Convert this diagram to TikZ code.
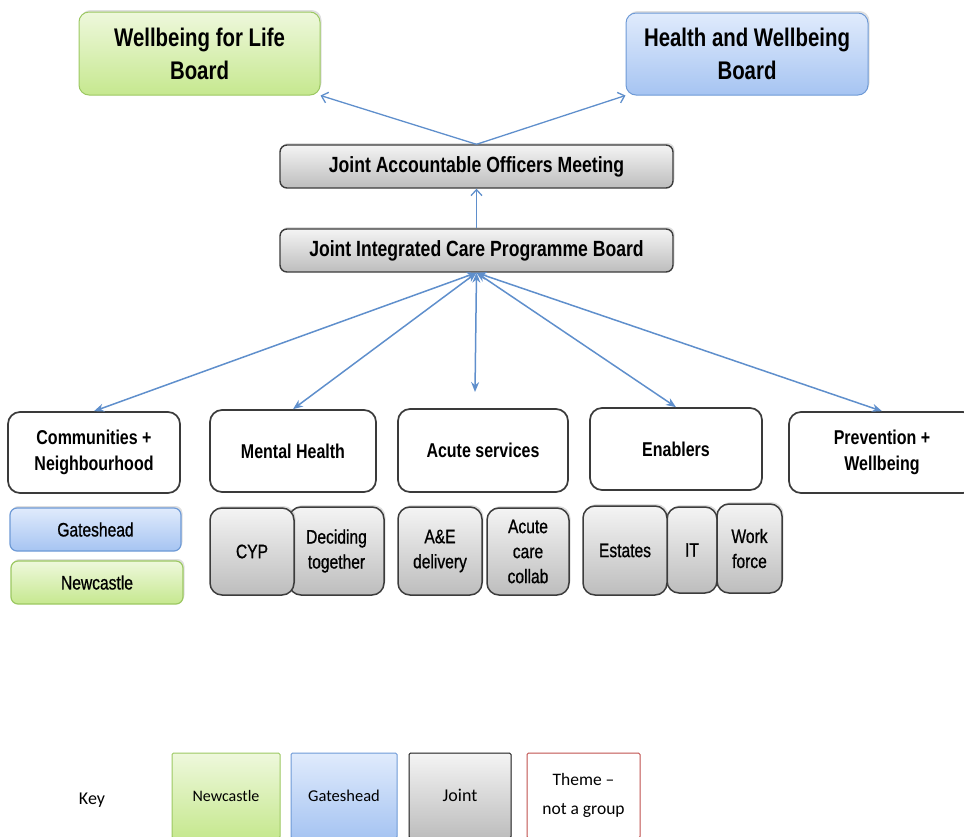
\documentclass[tikz,border=0pt]{standalone}
\usepackage{fontspec}
\setmainfont[FakeStretch=0.8]{Liberation Sans}
\newfontfamily\midfont[FakeStretch=0.8, FakeBold=0.8]{Liberation Sans}
\newfontfamily\keyfont{Carlito}
\usetikzlibrary{arrows.meta,shadows}

\definecolor{nclTop}{HTML}{EEF8DC}
\definecolor{nclBot}{HTML}{C6E88F}
\definecolor{nclLine}{HTML}{9CC862}
\definecolor{gatTop}{HTML}{E0EBFC}
\definecolor{gatBot}{HTML}{A6C4F2}
\definecolor{gatLine}{HTML}{6E9AD6}
\definecolor{jntTop}{HTML}{F4F4F4}
\definecolor{jntBot}{HTML}{BDBDBD}
\definecolor{jntLine}{HTML}{3C3C3C}
\definecolor{themeLine}{HTML}{3A3A3A}
\definecolor{keyRed}{HTML}{C0504D}
\definecolor{linkBlue}{HTML}{5F8FCC}

\tikzset{
  box/.style={inner sep=0pt, align=center, line width=1pt},
  nclfill/.style={draw=nclLine, top color=nclTop, bottom color=nclBot},
  gatfill/.style={draw=gatLine, top color=gatTop, bottom color=gatBot},
  jntfill/.style={draw=jntLine, top color=jntTop, bottom color=jntBot},
  softshadow/.style={drop shadow={opacity=0.25, shadow xshift=1.5pt, shadow yshift=2pt}},
  board/.style={box, rounded corners=10pt, softshadow,
    font=\bfseries\fontsize{25.5}{33}\selectfont},
  bar/.style={box, jntfill, rounded corners=7pt, line width=1.4pt, softshadow,
    font=\bfseries\fontsize{22}{26}\selectfont},
  theme/.style={box, draw=themeLine, fill=white, rounded corners=12pt,
    line width=1.7pt, font=\bfseries\fontsize{20}{26}\selectfont},
  area/.style={box, rounded corners=7pt, line width=1.2pt, softshadow,
    font=\midfont\fontsize{19.5}{25}\selectfont},
  sub/.style={box, jntfill, rounded corners=12pt, line width=1.5pt, softshadow,
    font=\midfont\fontsize{19.5}{25}\selectfont},
  keybox/.style={box, rounded corners=1.5pt, line width=1pt, minimum height=85pt},
  uplink/.style={draw=linkBlue, line width=1.3pt,
    -{Straight Barb[length=6pt, width=11pt]}},
  themelink/.style={draw=linkBlue, line width=1.5pt,
    {Stealth[length=10pt, width=8pt]}-{Stealth[length=10pt, width=8pt]}}
}

\begin{document}
\begin{tikzpicture}[x=1pt, y=-1pt]
\useasboundingbox (0,0) rectangle (964,836);
\clip (0,0) rectangle (964,836);

% governance boards
\node[board, nclfill, minimum width=241pt, minimum height=83pt] (wfl) at (199.5,53.5)
  {Wellbeing for Life\\Board};
\node[board, gatfill, minimum width=242pt, minimum height=82pt] (hwb) at (747,54)
  {Health and Wellbeing\\Board};

\node[bar, minimum width=393pt, minimum height=43pt] (jaom) at (476.5,166.5)
  {Joint Accountable Officers Meeting};
\node[bar, minimum width=393pt, minimum height=43pt] (jicpb) at (476.5,250.5)
  {Joint Integrated Care Programme Board};

% themes
\node[theme, minimum width=172pt, minimum height=81pt] (comm) at (94,452.5)
  {Communities +\\Neighbourhood};
\node[theme, minimum width=166pt, minimum height=82pt] (mh) at (293,451)
  {Mental Health};
\node[theme, minimum width=170pt, minimum height=83pt] (acute) at (483,450.5)
  {Acute services};
\node[theme, minimum width=172pt, minimum height=82pt] (enab) at (676,449)
  {Enablers};
\node[theme, minimum width=186pt, minimum height=81pt] (prev) at (882,452.5)
  {Prevention +\\Wellbeing};
\coordinate (acuteTip) at (475,392);

% groups under each theme
\node[area, gatfill, minimum width=171pt, minimum height=43pt] (gates) at (95.5,529.5)
  {Gateshead};
\node[area, nclfill, minimum width=172pt, minimum height=43pt] (newc) at (97,582.5)
  {Newcastle};

\node[sub, minimum width=95pt, minimum height=88pt] (dec) at (336.5,551)
  {Deciding\\together};
\node[sub, minimum width=84pt, minimum height=87pt] (cyp) at (252,551.5) {CYP};

\node[sub, minimum width=84pt, minimum height=88pt] (ae) at (440,551)
  {A\&E\\delivery};
\node[sub, minimum width=82pt, minimum height=87pt] (acc) at (528,551.5)
  {Acute\\care\\collab};

\node[sub, minimum width=50pt, minimum height=86pt] (it) at (692,550) {IT};
\node[sub, minimum width=84pt, minimum height=89pt] (est) at (625,550.5) {Estates};
\node[sub, minimum width=65pt, minimum height=89pt] (wf) at (749.5,548.5)
  {Work\\force};

% reporting lines
\draw[uplink] (jaom.north) -- (wfl.south east);
\draw[uplink] (jaom.north) -- (hwb.south west);
\draw[uplink] (jicpb.north) -- (jaom.south);

\draw[themelink] (jicpb.south) -- (comm.north);
\draw[themelink] (jicpb.south) -- (mh.north);
\draw[themelink] (jicpb.south) -- (acuteTip);
\draw[themelink] (jicpb.south) -- (enab.north);
\draw[themelink] (jicpb.south) -- (prev.north);

% key
\node[font=\keyfont\fontsize{18}{22}\selectfont] (keylbl) at (92,800) {Key};
\node[keybox, nclfill, minimum width=108pt, font=\keyfont\fontsize{16}{20}\selectfont]
  (kn) at (226,795.5) {Newcastle};
\node[keybox, gatfill, minimum width=106pt, font=\keyfont\fontsize{16.5}{20}\selectfont]
  (kg) at (344,795.5) {Gateshead};
\node[keybox, draw=black!90, top color=jntTop, bottom color=jntBot, minimum width=102pt,
  font=\keyfont\fontsize{18}{22}\selectfont] (kj) at (460,795.5) {Joint};
\node[keybox, draw=keyRed, fill=white, minimum width=113pt,
  font=\keyfont\fontsize{17.5}{29}\selectfont] (kt) at (583.5,795.5)
  {Theme –\\not a group};
\end{tikzpicture}
\end{document}
